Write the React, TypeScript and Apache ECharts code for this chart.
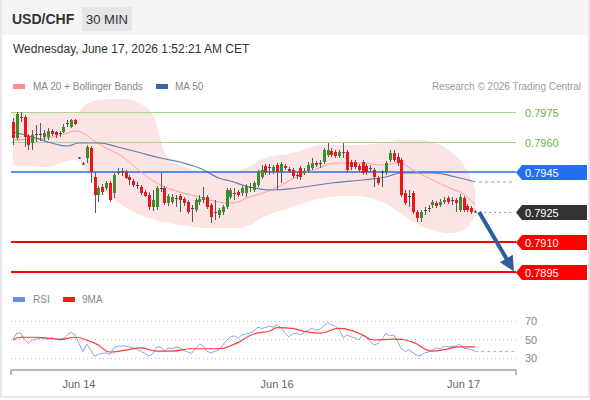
import React, { useEffect, useRef } from 'react';
import * as echarts from 'echarts';

// ---- Candles (30 min) ----
const opens = [0.79700,0.79620,0.79720,0.79725,0.79630,0.79595,0.79635,0.79640,0.79625,0.79625,0.79655,0.79650,0.79640,0.79650,0.79690,0.79675,0.79710,0.79520,0.79490,0.79520,0.79570,0.79425,0.79335,0.79375,0.79370,0.79395,0.79345,0.79450,0.79450,0.79450,0.79425,0.79405,0.79385,0.79375,0.79350,0.79335,0.79275,0.79275,0.79370,0.79370,0.79295,0.79300,0.79320,0.79330,0.79315,0.79300,0.79270,0.79260,0.79300,0.79310,0.79325,0.79285,0.79250,0.79235,0.79250,0.79275,0.79325,0.79345,0.79350,0.79345,0.79345,0.79370,0.79360,0.79385,0.79425,0.79480,0.79470,0.79450,0.79485,0.79450,0.79480,0.79465,0.79460,0.79435,0.79470,0.79445,0.79455,0.79470,0.79495,0.79490,0.79500,0.79535,0.79555,0.79550,0.79530,0.79550,0.79550,0.79500,0.79500,0.79480,0.79500,0.79480,0.79470,0.79460,0.79420,0.79445,0.79450,0.79510,0.79545,0.79525,0.79510,0.79345,0.79330,0.79345,0.79250,0.79220,0.79260,0.79270,0.79285,0.79295,0.79285,0.79300,0.79320,0.79310,0.79310,0.79260,0.79320,0.79280,0.79270,0.79250];
const closes = [0.79620,0.79740,0.79725,0.79625,0.79585,0.79635,0.79640,0.79635,0.79645,0.79655,0.79640,0.79635,0.79645,0.79675,0.79695,0.79710,0.79690,0.79520,0.79490,0.79575,0.79450,0.79335,0.79370,0.79350,0.79395,0.79310,0.79435,0.79445,0.79455,0.79420,0.79410,0.79385,0.79380,0.79345,0.79330,0.79275,0.79310,0.79370,0.79365,0.79295,0.79330,0.79325,0.79315,0.79310,0.79295,0.79250,0.79265,0.79310,0.79315,0.79325,0.79275,0.79225,0.79245,0.79260,0.79275,0.79360,0.79360,0.79340,0.79335,0.79370,0.79380,0.79375,0.79395,0.79450,0.79460,0.79450,0.79475,0.79475,0.79450,0.79490,0.79470,0.79455,0.79430,0.79430,0.79425,0.79455,0.79485,0.79495,0.79485,0.79495,0.79560,0.79560,0.79535,0.79530,0.79550,0.79545,0.79460,0.79475,0.79475,0.79460,0.79445,0.79450,0.79465,0.79425,0.79395,0.79450,0.79495,0.79545,0.79510,0.79495,0.79335,0.79295,0.79325,0.79250,0.79220,0.79250,0.79255,0.79265,0.79300,0.79280,0.79300,0.79310,0.79300,0.79305,0.79295,0.79325,0.79260,0.79260,0.79250,0.79250];
const lows = [0.79585,0.79610,0.79700,0.79575,0.79560,0.79560,0.79600,0.79605,0.79610,0.79610,0.79630,0.79620,0.79625,0.79645,0.79675,0.79670,0.79685,0.79515,0.79485,0.79495,0.79395,0.79245,0.79300,0.79335,0.79360,0.79300,0.79320,0.79435,0.79430,0.79415,0.79385,0.79375,0.79365,0.79335,0.79325,0.79260,0.79255,0.79260,0.79350,0.79285,0.79280,0.79290,0.79275,0.79250,0.79280,0.79240,0.79200,0.79250,0.79285,0.79295,0.79265,0.79195,0.79210,0.79220,0.79235,0.79265,0.79315,0.79310,0.79325,0.79330,0.79325,0.79350,0.79350,0.79375,0.79415,0.79435,0.79435,0.79440,0.79360,0.79395,0.79460,0.79445,0.79420,0.79415,0.79410,0.79435,0.79445,0.79460,0.79475,0.79470,0.79490,0.79525,0.79525,0.79520,0.79520,0.79520,0.79450,0.79460,0.79465,0.79450,0.79435,0.79435,0.79450,0.79375,0.79385,0.79375,0.79435,0.79500,0.79500,0.79480,0.79325,0.79285,0.79275,0.79240,0.79200,0.79200,0.79235,0.79250,0.79270,0.79270,0.79275,0.79290,0.79290,0.79285,0.79250,0.79250,0.79250,0.79250,0.79240,0.79245];
const highs = [0.79720,0.79750,0.79750,0.79735,0.79640,0.79660,0.79685,0.79695,0.79660,0.79670,0.79665,0.79655,0.79655,0.79690,0.79710,0.79715,0.79715,0.79525,0.79500,0.79585,0.79580,0.79450,0.79380,0.79390,0.79405,0.79405,0.79445,0.79470,0.79470,0.79460,0.79435,0.79415,0.79400,0.79385,0.79360,0.79350,0.79360,0.79380,0.79445,0.79380,0.79340,0.79340,0.79335,0.79340,0.79325,0.79310,0.79285,0.79320,0.79335,0.79375,0.79335,0.79295,0.79310,0.79270,0.79285,0.79370,0.79370,0.79370,0.79360,0.79380,0.79390,0.79395,0.79405,0.79460,0.79485,0.79490,0.79490,0.79485,0.79495,0.79500,0.79490,0.79475,0.79470,0.79450,0.79480,0.79470,0.79500,0.79520,0.79505,0.79510,0.79570,0.79595,0.79570,0.79560,0.79560,0.79595,0.79560,0.79510,0.79510,0.79490,0.79510,0.79490,0.79485,0.79470,0.79430,0.79460,0.79505,0.79560,0.79560,0.79545,0.79520,0.79360,0.79360,0.79355,0.79260,0.79260,0.79275,0.79285,0.79310,0.79305,0.79315,0.79325,0.79330,0.79325,0.79320,0.79340,0.79330,0.79290,0.79280,0.79260];

// ---- Moving averages & Bollinger bands (read at sample candles) ----
const ma20Idx = [0,5,10,14,16,18,21,25,28,33,38,43,48,53,56,61,67,73,78,84,90,95,99,103,108,113,116,119];
const ma20Val = [0.79610,0.79615,0.79625,0.79645,0.79655,0.79645,0.79605,0.79560,0.79530,0.79450,0.79385,0.79350,0.79325,0.79300,0.79295,0.79325,0.79365,0.79425,0.79465,0.79495,0.79495,0.79485,0.79495,0.79460,0.79410,0.79365,0.79340,0.79285];
const ma50Idx = [0,5,10,14,17,22,27,33,38,43,48,50,53,56,61,67,73,82,90,96,100,108,114,119];
const ma50Val = [0.79650,0.79625,0.79595,0.79580,0.79595,0.79595,0.79575,0.79545,0.79520,0.79500,0.79470,0.79450,0.79420,0.79405,0.79375,0.79360,0.79370,0.79395,0.79410,0.79425,0.79445,0.79445,0.79425,0.79400];
const bandIdx = [0,8,16,19,23,28,33,36,38,40,43,50,56,61,65,72,80,87,95,100,104,108,112,116,119];
const bandUpper = [0.79745,0.79750,0.79745,0.79790,0.79810,0.79815,0.79790,0.79735,0.79610,0.79520,0.79485,0.79450,0.79450,0.79480,0.79520,0.79545,0.79585,0.79585,0.79595,0.79610,0.79610,0.79600,0.79560,0.79485,0.79360];
const bandLower = [0.79485,0.79475,0.79510,0.79450,0.79360,0.79285,0.79235,0.79215,0.79200,0.79195,0.79185,0.79170,0.79170,0.79185,0.79230,0.79275,0.79320,0.79330,0.79300,0.79240,0.79190,0.79160,0.79145,0.79160,0.79235];

// ---- RSI panel ----
const rsiIdx = [0,1,2,3,4,5,7,9,10,11,13,14,15,16,17,18,19,20,21,22,23,24,25,26,27,29,31,32,33,34,35,36,37,38,39,40,41,42,43,44,45,46,47,48,49,50,51,53,54,55,56,57,58,59,60,61,62,63,64,65,66,67,68,69,70,71,72,73,74,75,76,77,78,79,80,81,82,83,84,85,86,87,88,89,90,91,92,93,94,95,96,97,98,99,100,101,102,103,104,105,106,107,108,109,110,111,112,113,114,115,116,117,118,119];
const rsiVal = [50.5,57,57,50,46,49.5,51.5,50.5,52,50.5,51,55,58,55,46,37,45,39,32,34,35,35.5,34,41,43,43,41,39,37,35,32,34.5,42,42,37.5,41,40,42,41,38,36.5,35,41,45,43,37,35.5,39,44,49,53,54,51.5,55,56,57,59,63.5,62,63,64.5,63.5,66,63,57,53,56,57,55,58,60,62,60,61,65,68,66,64.5,61,52,55,53,52,49.5,55,52,48,44,46,50,57,54,55,48,40,37,39,35.5,33,32.5,35.5,36.5,39,41,40,43,42,42.5,43,45,41,40,39,37.5];
const ma9Idx = [0,2,6,10,12,16,19,22,25,29,33,37,41,46,53,57,62,66,68,72,74,76,79,84,87,90,93,98,103,108,111,115,119];
const ma9Val = [49.5,52.5,52.5,51,50,52.5,49.5,44,36.5,38.5,41,37.5,37.5,40,40,45,56,59,63,62,60,58,57,62,60,55,49.5,50.5,47,37.5,39,42,42];
const rsiLevels = [70, 50, 30];

// ---- Axis / levels ----
const SLOT_COUNT = 130;
const dayLabelIdx = [17, 68, 116];
const dayLabelText = ['Jun 14', 'Jun 16', 'Jun 17'];
const supportLevels = [0.7975, 0.7960];
const tagLevels = [0.7945, 0.7925, 0.7910, 0.7895];
const tagColors = ['#1f6fef', '#333333', '#ff0000', '#ff0000'];
const lastClose = 0.7925;
const arrowStart = [120, 0.7925];
const arrowEnd = [128, 0.78985];

const FONT = 'Arial, "Liberation Sans", Helvetica, sans-serif';
const GREEN = '#3b8e2b';
const RED = '#e5181b';
const WICK = '#5a5a5a';

export default function App() {
  const ref = useRef<HTMLDivElement>(null);

  useEffect(() => {
    const chart = echarts.init(ref.current as HTMLDivElement, undefined, { renderer: 'svg', width: 590, height: 400 });
    const cats = Array.from({ length: SLOT_COUNT }, (_, i) => String(i));
    const candleData = opens.map((o, i) => [i, o, closes[i], lows[i], highs[i]]);
    const pairs = (idx: number[], vals: number[]) => idx.map((i, k) => [i, vals[k]]);
    const lastMa50 = ma50Val[ma50Val.length - 1];
    const lastRsi = rsiVal[rsiVal.length - 1];

    const option: any = {
      animation: false,
      textStyle: { fontFamily: FONT },
      grid: [
        { left: 11, width: 505, top: 98, height: 187, outerBoundsMode: 'none' },
        { left: 11, width: 505, top: 310, height: 60, outerBoundsMode: 'none' },
      ],
      xAxis: [
        { type: 'category', gridIndex: 0, data: cats, boundaryGap: true, show: false },
        {
          type: 'category', gridIndex: 1, data: cats, boundaryGap: true,
          axisLine: { lineStyle: { color: '#b8b8b8', width: 2 } },
          axisTick: { show: true, interval: (i: number) => i === 0, length: 5, lineStyle: { color: '#b8b8b8', width: 2 } },
          axisLabel: {
            interval: (i: number) => dayLabelIdx.indexOf(i) >= 0,
            formatter: (v: string) => { const k = dayLabelIdx.indexOf(Number(v)); return k >= 0 ? dayLabelText[k] : ''; },
            color: '#666', fontSize: 11, margin: 8, fontFamily: FONT,
          },
          splitLine: { show: false },
        },
      ],
      yAxis: [
        { type: 'value', gridIndex: 0, min: 0.78885, max: 0.7982, show: false, splitLine: { show: false } },
        { type: 'value', gridIndex: 1, min: 17, max: 82, show: false, splitLine: { show: false } },
      ],
      series: [
        {
          name: 'bbLower', type: 'line', xAxisIndex: 0, yAxisIndex: 0, stack: 'bb', smooth: true,
          symbol: 'none', lineStyle: { opacity: 0 }, data: pairs(bandIdx, bandLower), z: 1, silent: true,
        },
        {
          name: 'bbBand', type: 'line', xAxisIndex: 0, yAxisIndex: 0, stack: 'bb', smooth: true,
          symbol: 'none', lineStyle: { opacity: 0 }, areaStyle: { color: '#fde4e4', opacity: 1 },
          data: bandIdx.map((i, k) => [i, bandUpper[k] - bandLower[k]]), z: 1, silent: true,
        },
        {
          name: 'MA 20', type: 'line', xAxisIndex: 0, yAxisIndex: 0, smooth: true, symbol: 'none',
          lineStyle: { color: '#ff9c9c', width: 1 }, data: pairs(ma20Idx, ma20Val), z: 3, silent: true,
          markLine: {
            silent: true, precision: 6, symbol: ['none', 'triangle'], symbolSize: 15, label: { show: false },
            lineStyle: { color: '#2d5f9f', width: 4, type: 'solid' }, z: 6,
            data: [[{ coord: arrowStart }, { coord: arrowEnd }]],
          },
        },
        {
          name: 'MA 50', type: 'line', xAxisIndex: 0, yAxisIndex: 0, smooth: true, symbol: 'none',
          lineStyle: { color: '#4a6fa8', width: 1.2, opacity: 0.85 }, data: pairs(ma50Idx, ma50Val), z: 3, silent: true,
          markLine: {
            silent: true, precision: 6, symbol: ['none', 'none'], label: { show: false }, z: 2,
            data: [
              ...supportLevels.map((v) => ({ yAxis: v, lineStyle: { color: '#a9d48b', width: 1, type: 'solid' } })),
              { yAxis: tagLevels[0], lineStyle: { color: tagColors[0], width: 1.5, type: 'solid' } },
              { yAxis: tagLevels[2], lineStyle: { color: tagColors[2], width: 1.8, type: 'solid' } },
              { yAxis: tagLevels[3], lineStyle: { color: tagColors[3], width: 1.8, type: 'solid' } },
              [
                { coord: [120, lastClose], lineStyle: { color: '#9a9a9a', width: 1, type: [2, 3] } },
                { coord: [SLOT_COUNT - 1, lastClose] },
              ],
              [
                { coord: [120, lastMa50], lineStyle: { color: '#a9bad8', width: 1.5, type: [3, 3] } },
                { coord: [SLOT_COUNT - 1, lastMa50] },
              ],
            ],
          },
        },
        {
          name: 'candles', type: 'custom', xAxisIndex: 0, yAxisIndex: 0, z: 4, clip: true,
          encode: { x: 0, y: [1, 2, 3, 4] },
          data: candleData,
          renderItem: (params: any, api: any) => {
            const i = api.value(0);
            const o = api.value(1), c = api.value(2), l = api.value(3), h = api.value(4);
            const pO = api.coord([i, o]);
            const pC = api.coord([i, c]);
            const pL = api.coord([i, l]);
            const pH = api.coord([i, h]);
            const x = Math.round(pO[0]) + 0.5;
            const top = Math.min(pO[1], pC[1]);
            const diff = Math.abs(pO[1] - pC[1]);
            const doji = Math.abs(o - c) <= 0.000051;
            const fill = doji ? '#4a4a4a' : c > o ? GREEN : RED;
            return {
              type: 'group',
              children: [
                { type: 'line', shape: { x1: x, y1: pH[1], x2: x, y2: pL[1] }, style: { stroke: WICK, lineWidth: 1 } },
                { type: 'rect', shape: { x: x - 1.5, y: doji ? (pO[1] + pC[1]) / 2 - 0.5 : top, width: 3, height: doji ? 1 : Math.max(1, diff) }, style: { fill } },
              ],
            };
          },
        },
        {
          name: 'RSI', type: 'line', xAxisIndex: 1, yAxisIndex: 1, symbol: 'none', smooth: false,
          lineStyle: { color: '#86a3ec', width: 1 }, data: pairs(rsiIdx, rsiVal), z: 3, silent: true,
          markLine: {
            silent: true, precision: 6, symbol: ['none', 'none'], label: { show: false }, z: 2,
            data: [
              ...rsiLevels.map((v) => ({ yAxis: v, lineStyle: { color: '#bdbdbd', width: 1, type: [1, 3] } })),
              [
                { coord: [119, lastRsi], lineStyle: { color: '#9fb5ee', width: 1, type: [3, 3] } },
                { coord: [SLOT_COUNT - 1, lastRsi] },
              ],
            ],
          },
        },
        {
          name: '9MA', type: 'line', xAxisIndex: 1, yAxisIndex: 1, symbol: 'none', smooth: true,
          lineStyle: { color: '#ff3b3b', width: 1.2 }, data: pairs(ma9Idx, ma9Val), z: 3, silent: true,
        },
      ],
    };

    chart.setOption(option);

    const yP = (v: number) => chart.convertToPixel({ yAxisIndex: 0 }, v) as number;
    const yR = (v: number) => chart.convertToPixel({ yAxisIndex: 1 }, v) as number;

    const graphics: any[] = [
      { type: 'rect', shape: { x: 0, y: 0, width: 590, height: 35 }, style: { fill: '#f4f4f4' }, z: -10, silent: true },
      { type: 'rect', shape: { x: 1, y: -3, width: 588, height: 400 }, style: { fill: 'none', stroke: '#e6e8ec', lineWidth: 2 }, z: 10, silent: true },
      { type: 'text', x: 12, y: 19, style: { text: 'USD/CHF', font: `bold 14px ${FONT}`, fill: '#333', verticalAlign: 'middle' } },
      { type: 'rect', shape: { x: 82, y: 7, width: 50, height: 24 }, style: { fill: '#e4e6e9' } },
      { type: 'text', x: 107, y: 19, style: { text: '30 MIN', font: `13px ${FONT}`, fill: '#333', align: 'center', verticalAlign: 'middle' } },
      { type: 'text', x: 13, y: 49, style: { text: 'Wednesday, June 17, 2026 1:52:21 AM CET', font: `12px ${FONT}`, fill: '#333', verticalAlign: 'middle' } },
      { type: 'rect', shape: { x: 13, y: 84, width: 12, height: 5 }, style: { fill: '#ff8c8c' } },
      { type: 'text', x: 33, y: 86.5, style: { text: 'MA 20 + Bollinger Bands', font: `10px ${FONT}`, fill: '#888', verticalAlign: 'middle' } },
      { type: 'rect', shape: { x: 156, y: 84, width: 12, height: 5 }, style: { fill: '#3a65a8' } },
      { type: 'text', x: 175, y: 86.5, style: { text: 'MA 50', font: `10px ${FONT}`, fill: '#888', verticalAlign: 'middle' } },
      { type: 'text', x: 581, y: 86.5, style: { text: 'Research © 2026 Trading Central', font: `10px ${FONT}`, fill: '#9a9a9a', align: 'right', verticalAlign: 'middle' } },
      { type: 'rect', shape: { x: 13, y: 297, width: 12, height: 5 }, style: { fill: '#6a8ee8' } },
      { type: 'text', x: 33, y: 299.5, style: { text: 'RSI', font: `10px ${FONT}`, fill: '#888', verticalAlign: 'middle' } },
      { type: 'rect', shape: { x: 63, y: 297, width: 12, height: 5 }, style: { fill: '#ff1a1a' } },
      { type: 'text', x: 82, y: 299.5, style: { text: '9MA', font: `10px ${FONT}`, fill: '#888', verticalAlign: 'middle' } },
    ];

    supportLevels.forEach((v) => {
      graphics.push({ type: 'text', x: 525, y: Math.round(yP(v)) + 0.5, style: { text: v.toFixed(4), font: `11px ${FONT}`, fill: '#6bb244', verticalAlign: 'middle' } });
    });
    tagLevels.forEach((v, k) => {
      const y = Math.round(yP(v)) + 0.5;
      graphics.push({
        type: 'polygon',
        shape: { points: [[516, y], [522, y - 7.5], [587, y - 7.5], [587, y + 7.5], [522, y + 7.5]] },
        style: { fill: tagColors[k] },
      });
      graphics.push({ type: 'text', x: 525, y, style: { text: v.toFixed(4), font: `11px ${FONT}`, fill: '#fff', verticalAlign: 'middle' } });
    });
    rsiLevels.forEach((v) => {
      graphics.push({ type: 'text', x: 525, y: yR(v), style: { text: String(v), font: `11px ${FONT}`, fill: '#888', verticalAlign: 'middle' } });
    });

    chart.setOption({ graphic: graphics });

    return () => chart.dispose();
  }, []);

  return <div ref={ref} style={{ position: 'absolute', left: 0, top: 0, width: 590, height: 400, background: '#fff' }} />;
}
